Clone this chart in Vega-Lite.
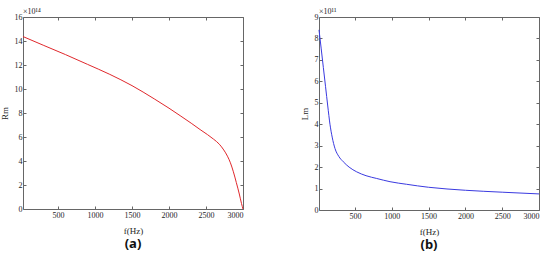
{
  "$schema": "https://vega.github.io/schema/vega-lite/v6.json",
  "padding": {"left": 0, "top": 8, "right": 5, "bottom": 2},
  "background": "white",
  "bounds": "flush",
  "spacing": 76,
  "config": {
    "view": {"stroke": null},
    "font": "Liberation Serif",
    "axis": {
      "grid": false,
      "domainColor": "#666",
      "tickColor": "#666",
      "tickSize": -3,
      "labelFont": "Liberation Serif",
      "labelFontSize": 8,
      "labelColor": "#262626",
      "titleFont": "Liberation Serif",
      "titleFontSize": 9,
      "titleFontWeight": "normal",
      "titleColor": "#262626"
    },
    "title": {"font": "Noto Sans", "fontSize": 13, "fontWeight": "bold", "color": "#111"}
  },
  "datasets": {
    "rm": [
      {"f": 27, "v": 14.37}, {"f": 300, "v": 13.65}, {"f": 600, "v": 12.87}, {"f": 900, "v": 12.05},
      {"f": 1200, "v": 11.22}, {"f": 1500, "v": 10.28}, {"f": 1800, "v": 9.18}, {"f": 2000, "v": 8.4},
      {"f": 2150, "v": 7.78}, {"f": 2300, "v": 7.15}, {"f": 2420, "v": 6.62}, {"f": 2520, "v": 6.2},
      {"f": 2600, "v": 5.83}, {"f": 2680, "v": 5.4}, {"f": 2740, "v": 4.92}, {"f": 2790, "v": 4.4},
      {"f": 2830, "v": 3.85}, {"f": 2870, "v": 3.1}, {"f": 2910, "v": 2.2}, {"f": 2950, "v": 1.25},
      {"f": 2980, "v": 0.45}, {"f": 3000, "v": 0}
    ],
    "lm": [
      {"f": 11, "v": 8.4}, {"f": 40, "v": 7.55}, {"f": 70, "v": 6.65}, {"f": 100, "v": 5.75},
      {"f": 130, "v": 4.85}, {"f": 160, "v": 4.0}, {"f": 190, "v": 3.4}, {"f": 228, "v": 2.87},
      {"f": 280, "v": 2.5}, {"f": 341, "v": 2.25}, {"f": 420, "v": 2.0}, {"f": 523, "v": 1.78},
      {"f": 650, "v": 1.6}, {"f": 795, "v": 1.47}, {"f": 976, "v": 1.32}, {"f": 1200, "v": 1.2},
      {"f": 1500, "v": 1.06}, {"f": 1750, "v": 0.98}, {"f": 2000, "v": 0.92}, {"f": 2500, "v": 0.83},
      {"f": 3000, "v": 0.75}
    ]
  },
  "hconcat": [
    {
      "width": 220,
      "height": 192,
      "title": {"text": "(a)", "orient": "bottom", "offset": 3},
      "data": {"name": "rm"},
      "resolve": {"axis": {"x": "independent", "y": "independent"}},
      "layer": [
        {
          "mark": {"type": "line", "color": "#e0282c", "strokeWidth": 1, "interpolate": "monotone"},
          "encoding": {
            "x": {"field": "f", "type": "quantitative", "scale": {"domain": [27, 3000], "nice": false, "zero": false},
                  "axis": {"values": [500, 1000, 1500, 2000, 2500, 3000], "format": "d", "title": "f(Hz)", "titlePadding": 7, "labelPadding": 5}},
            "y": {"field": "v", "type": "quantitative", "scale": {"domain": [0, 16], "nice": false},
                  "axis": {"values": [0, 2, 4, 6, 8, 10, 12, 14, 16], "format": "d", "title": "Rm", "titlePadding": 5, "labelPadding": 4}}
          }
        },
        {
          "mark": {"type": "line", "strokeOpacity": 0},
          "encoding": {
            "x": {"field": "f", "type": "quantitative", "axis": {"orient": "top", "values": [500, 1000, 1500, 2000, 2500, 3000], "labels": false, "title": null}},
            "y": {"field": "v", "type": "quantitative", "axis": {"orient": "right", "values": [0, 2, 4, 6, 8, 10, 12, 14, 16], "labels": false, "title": null}}
          }
        },
        {
          "data": {"values": [{"f": 27, "v": 16, "t": "×10¹⁴"}]},
          "mark": {"type": "text", "align": "left", "baseline": "bottom", "dy": -1, "fontSize": 8, "color": "#262626", "font": "Liberation Serif"},
          "encoding": {
            "x": {"field": "f", "type": "quantitative", "axis": null},
            "y": {"field": "v", "type": "quantitative", "axis": null},
            "text": {"field": "t"}
          }
        }
      ]
    },
    {
      "width": 220,
      "height": 193,
      "title": {"text": "(b)", "orient": "bottom", "offset": 3},
      "data": {"name": "lm"},
      "resolve": {"axis": {"x": "independent", "y": "independent"}},
      "layer": [
        {
          "mark": {"type": "line", "color": "#3a3ae0", "strokeWidth": 1, "interpolate": "monotone"},
          "encoding": {
            "x": {"field": "f", "type": "quantitative", "scale": {"domain": [11, 3000], "nice": false, "zero": false},
                  "axis": {"values": [500, 1000, 1500, 2000, 2500, 3000], "format": "d", "title": "f(Hz)", "titlePadding": 7, "labelPadding": 5}},
            "y": {"field": "v", "type": "quantitative", "scale": {"domain": [0, 9], "nice": false},
                  "axis": {"values": [0, 1, 2, 3, 4, 5, 6, 7, 8, 9], "format": "d", "title": "Lm", "titlePadding": 5, "labelPadding": 4}}
          }
        },
        {
          "mark": {"type": "line", "strokeOpacity": 0},
          "encoding": {
            "x": {"field": "f", "type": "quantitative", "axis": {"orient": "top", "values": [500, 1000, 1500, 2000, 2500, 3000], "labels": false, "title": null}},
            "y": {"field": "v", "type": "quantitative", "axis": {"orient": "right", "values": [0, 1, 2, 3, 4, 5, 6, 7, 8, 9], "labels": false, "title": null}}
          }
        },
        {
          "data": {"values": [{"f": 11, "v": 9, "t": "×10¹¹"}]},
          "mark": {"type": "text", "align": "left", "baseline": "bottom", "dy": -1, "fontSize": 8, "color": "#262626", "font": "Liberation Serif"},
          "encoding": {
            "x": {"field": "f", "type": "quantitative", "axis": null},
            "y": {"field": "v", "type": "quantitative", "axis": null},
            "text": {"field": "t"}
          }
        }
      ]
    }
  ]
}
